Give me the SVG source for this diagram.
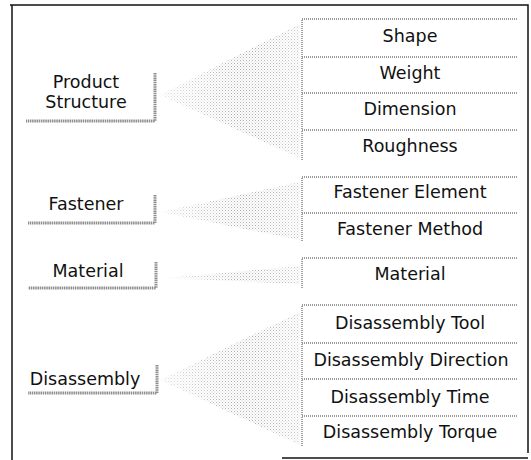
<svg xmlns="http://www.w3.org/2000/svg" width="531" height="460" viewBox="0 0 531 460">
<style>
  .frame{stroke:#111;stroke-width:1.5;fill:none}
  .row{stroke:#9a9a9a;stroke-width:1.8;fill:none;stroke-dasharray:1 1}
  .brk{stroke:#8e8e8e;stroke-width:3;fill:none;stroke-dasharray:1.5 0.7}
  .t{font-family:"DejaVu Sans",sans-serif;font-size:17.5px;fill:#111;text-anchor:middle}
  .fan{fill:url(#stip)}
</style>
<defs>
  <pattern id="stip" width="3" height="3" patternUnits="userSpaceOnUse">
    <rect x="0" y="0" width="1" height="1" fill="#9a9a9a"/>
    <rect x="1.5" y="1.5" width="1" height="1" fill="#b5b5b5"/>
  </pattern>
  <linearGradient id="fade" x1="0" x2="1" y1="0" y2="0">
    <stop offset="0" stop-color="#fff" stop-opacity="0.3"/>
    <stop offset="0.6" stop-color="#fff" stop-opacity="0.85"/>
    <stop offset="1" stop-color="#fff" stop-opacity="0.55"/>
  </linearGradient>
  <mask id="m" maskContentUnits="objectBoundingBox">
    <rect x="0" y="0" width="1" height="1" fill="url(#fade)"/>
  </mask>
</defs>

<g id="frame">
  <path class="frame" d="M10,5 H528 V453"/>
  <path class="frame" d="M12,5 V460"/>
  <path class="frame" d="M282,458 H528"/>
</g>

<g id="connectors">
  <polygon class="fan" mask="url(#m)" points="160,95 300,24 300,158"/>
  <polygon class="fan" mask="url(#m)" points="160,212 300,182 300,240"/>
  <polygon class="fan" mask="url(#m)" points="165,278 300,266 300,284"/>
  <polygon class="fan" mask="url(#m)" points="160,380 300,312 300,445"/>
</g>

<g id="product-structure">
  <path class="brk" d="M155,73 V121 H26"/>
  <text class="t" x="86" y="88">Product</text>
  <text class="t" x="86" y="108">Structure</text>
</g>
<g id="fastener">
  <path class="brk" d="M155,195 V223 H28"/>
  <text class="t" x="86" y="210">Fastener</text>
</g>
<g id="material">
  <path class="brk" d="M156,262 V288 H28"/>
  <text class="t" x="88" y="277">Material</text>
</g>
<g id="disassembly">
  <path class="brk" d="M157,365 V393 H28"/>
  <text class="t" x="85" y="385">Disassembly</text>
</g>

<g id="shape"><path class="row" d="M517,19 H302 V57"/><text class="t" x="410" y="42">Shape</text></g>
<g id="weight"><path class="row" d="M517,57 H302 V93"/><text class="t" x="410" y="79">Weight</text></g>
<g id="dimension"><path class="row" d="M517,93 H302 V130"/><text class="t" x="410" y="115">Dimension</text></g>
<g id="roughness"><path class="row" d="M517,130 H302 V160"/><text class="t" x="410" y="152">Roughness</text></g>

<g id="fastener-element"><path class="row" d="M517,177 H302 V213"/><text class="t" x="410" y="198">Fastener Element</text></g>
<g id="fastener-method"><path class="row" d="M517,213 H302 V242"/><text class="t" x="410" y="235">Fastener Method</text></g>

<g id="material-item"><path class="row" d="M517,258 H302 V288"/><text class="t" x="410" y="280">Material</text></g>

<g id="disassembly-tool"><path class="row" d="M517,305 H302 V343"/><text class="t" x="410" y="329">Disassembly Tool</text></g>
<g id="disassembly-direction"><path class="row" d="M517,343 H302 V379"/><text class="t" x="411" y="366">Disassembly Direction</text></g>
<g id="disassembly-time"><path class="row" d="M517,379 H302 V416"/><text class="t" x="410" y="403">Disassembly Time</text></g>
<g id="disassembly-torque"><path class="row" d="M517,416 H302 V447"/><text class="t" x="410" y="438">Disassembly Torque</text></g>
</svg>
